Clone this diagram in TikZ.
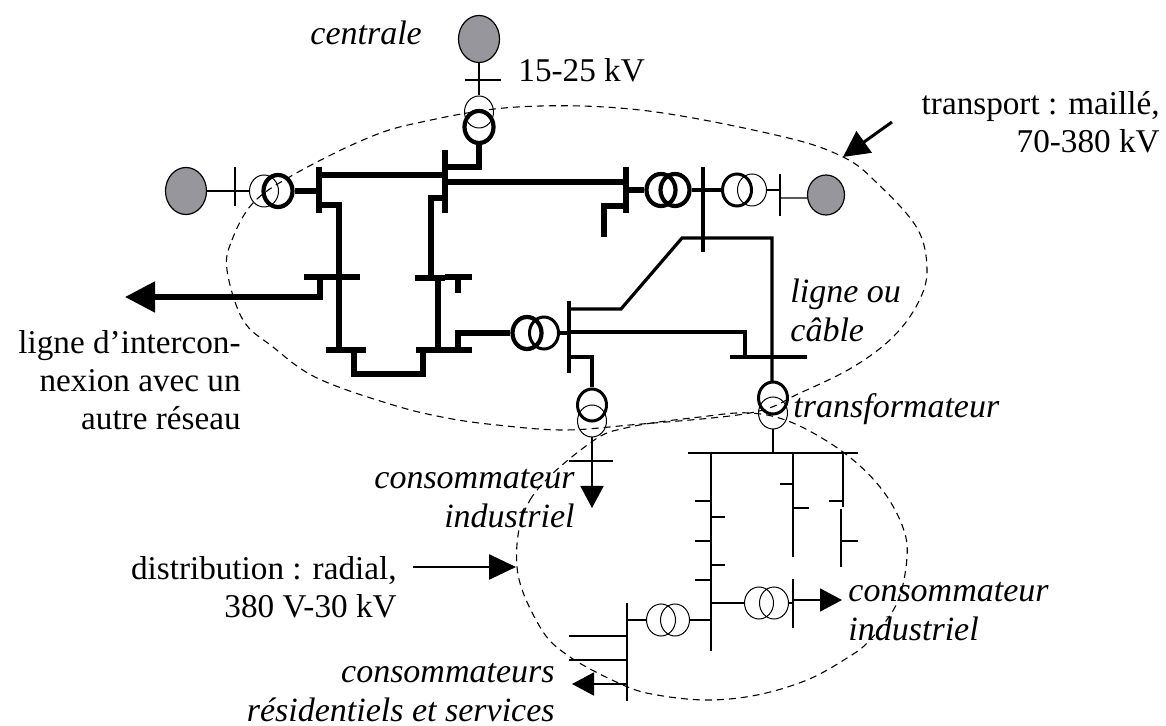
\documentclass[tikz,border=0pt]{standalone}
\usepackage{fontspec}
\setmainfont{Liberation Serif}
\usetikzlibrary{arrows.meta,shapes.geometric}
\definecolor{genfill}{RGB}{150,150,156}
\tikzset{
  gen/.style={draw,fill=genfill,ellipse,inner sep=0pt,line width=0.6pt,minimum width=20.5pt,minimum height=23.5pt},
  windthin/.style={draw,ellipse,inner sep=0pt,line width=0.5pt,minimum width=14.5pt,minimum height=16pt},
  windmed/.style={windthin,line width=1.5pt},
  windthick/.style={windthin,line width=2.1pt},
  hv/.style={line width=2.6pt},
  mv/.style={line width=1.6pt},
  lv/.style={line width=0.9pt},
  hair/.style={line width=0.6pt},
  boundary/.style={line width=0.55pt,dash pattern=on 3.5pt off 2.5pt},
  lab/.style={inner sep=0pt,font=\fontsize{16.6}{19}\selectfont,align=left},
  labit/.style={lab,font=\fontsize{17}{19.5}\selectfont\itshape},
  bigtip/.style={-{Triangle[length=11pt,width=11.5pt]}}
}
\begin{document}
\begin{tikzpicture}[x=0.5pt,y=-0.5pt]
\useasboundingbox (0,0) rectangle (1166,726);
% machines and transformers
\node[gen] (gentop) at (479,39) {};
\node[gen] (genleft) at (186,191) {};
\node[gen,minimum width=18.5pt,minimum height=20pt] (genright) at (826,195) {};
\node[windthin] (topa) at (479,112) {};
\node[windthick] (topb) at (479,127) {};
\node[windthin] (lefta) at (264,191) {};
\node[windthick] (leftb) at (278,191) {};
\node[windthick] (righta) at (661,190) {};
\node[windthick] (rightb) at (675,190) {};
\node[windmed] (farta) at (737,190) {};
\node[windthin] (fartb) at (752,190) {};
\node[windthick] (mida) at (527,333) {};
\node[windmed] (midb) at (544,333) {};
\node[windmed] (inda) at (592,405) {};
\node[windthin] (indb) at (592,421) {};
\node[windmed] (dista) at (773,398) {};
\node[windthin] (distb) at (773,413) {};
\node[windthin] (loada) at (759,603) {};
\node[windthin] (loadb) at (774,603) {};
\node[windthin] (resa) at (661,620) {};
\node[windthin] (resb) at (675,620) {};
% feeds to the generators
\draw[hair] (gentop.south) -- (topa.north);
\draw[hair] (465,80) -- (501,80);
\draw[hair] (genleft.east) -- (lefta.west);
\draw[hair] (235,167) -- (235,206);
\draw[hair] (fartb.east) -- (780,190);
\draw[hair] (780,174) -- (780,216);
\draw[hair] (780,198) -- (genright.189);
% upper network
\draw[hv] (topb.south) -- (479,167) -- (445,167);
\draw[hv] (445,150) -- (445,213);
\draw[hv] (319,167) -- (319,213);
\draw[hv] (leftb.east) -- (319,191);
\draw[hv] (319,175) -- (445,175);
\draw[hv] (445,182) -- (626,182);
\draw[hv] (626,167) -- (626,213);
\draw[hv] (626,190) -- (righta.west);
\draw[hv] (626,206) -- (604,206) -- (604,237);
\draw[mv] (rightb.east) -- (703,190) -- (farta.west);
\draw[mv] (703,167) -- (703,252);
\draw[hv] (319,205) -- (339,205) -- (339,350);
\draw[hv] (445,198) -- (431,198) -- (431,278);
\draw[hv] (304,277) -- (360,277);
\draw[hv] (415,278) -- (445,278);
\draw[hv] (445,277) -- (472,277);
\draw[hv] (458,277) -- (458,293);
\draw[hv] (438,278) -- (438,350);
\draw[hv] (326,350) -- (366,350);
\draw[hv] (416,350) -- (472,350);
\draw[hv] (354,350) -- (354,374) -- (423,374) -- (423,350);
\draw[hv] (458,350) -- (458,333) -- (mida.west);
\draw[hv,-{Triangle[length=15pt,width=15pt]}] (320,277) -- (320,297) -- (125,297);
% lines to the substations
\draw[mv] (midb.east) -- (569,333);
\draw[mv] (569,301) -- (569,373);
\draw[mv] (569,309) -- (621,309) -- (682,238) -- (772,238) -- (772,382);
\draw[mv] (569,332) -- (745,332) -- (745,357);
\draw[mv] (730,357) -- (807,357);
\draw[mv] (569,357) -- (592,357) -- (inda.north);
\draw[lv,bigtip] (indb.south) -- (592,508);
\draw[hair] (569,461) -- (613,461);
% distribution
\draw[lv] (distb.south) -- (773,453);
\draw[lv] (688,453) -- (858,453);
\draw[lv] (711,453) -- (711,651);
\draw[lv] (695,501) -- (711,501);
\draw[lv] (711,517) -- (725,517);
\draw[lv] (695,541) -- (711,541);
\draw[lv] (711,565) -- (725,565);
\draw[lv] (695,580) -- (711,580);
\draw[lv] (793,453) -- (793,557);
\draw[lv] (780,484) -- (793,484);
\draw[lv] (793,508) -- (809,508);
\draw[lv] (843,453) -- (843,507);
\draw[lv] (829,501) -- (843,501);
\draw[lv] (841,509) -- (841,567);
\draw[lv] (841,541) -- (858,541);
\draw[lv] (711,603) -- (loada.west);
\draw[lv] (793,579) -- (793,628);
\draw[lv] (loadb.east) -- (793,603);
\draw[lv,bigtip] (793,600) -- (842,600);
\draw[lv] (711,620) -- (resb.east);
\draw[lv] (resa.west) -- (627,620);
\draw[lv] (627,603) -- (627,701);
\draw[lv] (569,636) -- (627,636);
\draw[lv] (569,660) -- (627,660);
\draw[lv,bigtip] (627,684) -- (572,684);
% boundaries
\draw[boundary] plot[smooth cycle,tension=0.6] coordinates {(227,270) (232,240) (253,203) (293,175) (363,140) (417,123) (517,107) (640,110) (780,136) (843,157) (877,183) (917,228) (927,270) (918,303) (893,337) (853,367) (800,393) (750,413) (630,425) (563,430) (497,425) (447,418) (393,405) (317,378) (273,347) (243,320)};
\draw[boundary] plot[smooth cycle,tension=0.6] coordinates {(517,567) (530,500) (590,443) (630,427) (700,417) (750,413) (793,423) (843,452) (880,487) (902,525) (907,557) (897,603) (870,640) (847,658) (807,680) (757,695) (707,700) (657,695) (623,685) (570,657) (540,627)};
% arrows to the boundaries
\coordinate (tiptransport) at (843,157);
\coordinate (tipdist) at (516,567);
\draw[line width=1.5pt,-{Triangle[length=13pt,width=13pt]}] (892,122) -- (tiptransport);
\draw[line width=1.3pt,-{Triangle[length=13.5pt,width=12.5pt]}] (413,567) -- (tipdist);
% labels
\node[labit,anchor=base west] (lblcentrale) at (310,45) {centrale};
\node[lab,anchor=base west] (lblkv) at (518,82) {15-25 kV};
\node[lab,anchor=base east,align=right] (lbltransport) at (1160,153) {transport : maillé,\\70-380 kV};
\node[lab,anchor=base east,align=right] (lblinter) at (241,430) {ligne d'intercon-\\nexion avec un\\autre réseau};
\node[labit,anchor=base west] (lblligne) at (790,342) {ligne ou\\câble};
\node[labit,anchor=base west] (lbltransfo) at (793,418) {transformateur};
\node[labit,anchor=base east,align=right] (lblind) at (575,527) {consommateur\\industriel};
\node[lab,anchor=base east,align=right] (lbldist) at (397,617) {distribution : radial,\\380 V-30 kV};
\node[labit,anchor=base west] (lblindb) at (848,640) {consommateur\\industriel};
\node[labit,anchor=base east,align=right] (lblres) at (555,721) {consommateurs\\résidentiels et services};
\end{tikzpicture}
\end{document}
